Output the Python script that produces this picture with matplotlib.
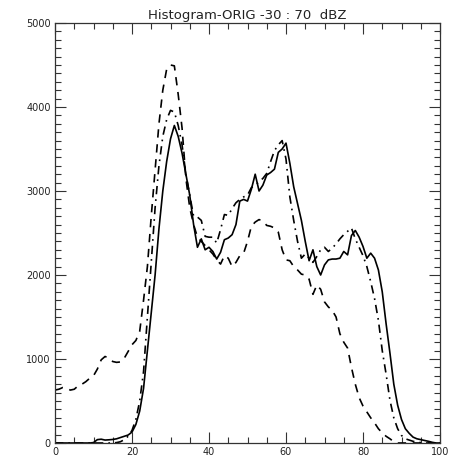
import matplotlib
matplotlib.use("Agg")
import matplotlib.pyplot as plt
import numpy as np

bins = list(range(0, 101))

dashed = [630, 640, 660, 650, 630, 640, 680, 700, 730, 770,
          800, 880, 990, 1030, 1010, 970, 960, 965, 1010, 1090,
          1170, 1220, 1330, 1700, 2100, 2700, 3250, 3800, 4200, 4450,
          4500, 4490, 4150, 3750, 3150, 2800, 2600, 2450, 2400, 2350,
          2300, 2250, 2180, 2130, 2230, 2200, 2100, 2150, 2230, 2260,
          2400, 2580, 2630, 2660, 2640, 2590, 2580, 2560, 2510, 2300,
          2180, 2170, 2100, 2060, 2010, 2000, 1950, 1770, 1880, 1830,
          1680, 1620, 1580, 1500, 1300, 1200, 1130, 900, 700, 540,
          440, 370, 300, 240, 170, 120, 80, 50, 15, 0,
          0, 0, 0, 0, 0, 0, 0, 0, 0, 0, 0]

solid = [0, 0, 0, 0, 0, 0, 0, 0, 0, 0,
         5, 40, 45, 35, 38, 42, 50, 65, 80, 95,
         130, 220, 380, 650, 1100, 1550, 2000, 2550, 3000, 3350,
         3620, 3780, 3650, 3450, 3200, 2950, 2600, 2330, 2430, 2300,
         2330, 2280, 2190, 2270, 2420, 2440, 2480, 2600, 2880, 2900,
         2880, 3020, 3200, 3000, 3070, 3190, 3220, 3260, 3460, 3500,
         3570, 3330, 3050, 2850, 2650, 2400, 2170, 2300, 2100, 2000,
         2120, 2180, 2190, 2190, 2200, 2280, 2240, 2470, 2530, 2450,
         2340, 2200, 2260, 2200, 2060, 1800, 1420, 1070, 700, 450,
         280, 170, 115, 70, 50, 40, 30, 20, 8, 0, 0]

dashdot = [0, 0, 0, 0, 0, 0, 0, 0, 0, 0,
           0, 0, 0, 0, 0, 0, 5, 15, 40, 80,
           150, 280, 500, 850, 1500, 2150, 2800, 3300, 3650, 3850,
           3960, 3940, 3780, 3550, 3200, 2950, 2700, 2690, 2650, 2460,
           2450, 2450, 2380, 2540, 2720, 2710, 2790, 2860, 2900, 2930,
           2950, 3040, 3070, 3110, 3150, 3210, 3350, 3480, 3550, 3600,
           3380, 2930, 2650, 2400, 2200, 2250, 2200, 2150, 2220, 2300,
           2330, 2280, 2320, 2370, 2430, 2480, 2520, 2560, 2430, 2330,
           2230, 2100, 1920, 1720, 1460, 1100, 820, 510, 300, 170,
           90, 50, 35, 20, 10, 5, 0, 0, 0, 0, 0]

title = "Histogram-ORIG -30 : 70  dBZ"
xticks = [0, 20, 40, 60, 80, 100]
yticks = [0, 1000, 2000, 3000, 4000, 5000]

fig = plt.figure(figsize=(4.5, 4.62), dpi=100)
ax = fig.add_axes([55/450, 19/462, 385/450, 420/462])

ax.plot(bins, solid, color="black", lw=1.2, linestyle="-")
ax.plot(bins, dashed, color="black", lw=1.2, linestyle=(0, (5, 4)))
ax.plot(bins, dashdot, color="black", lw=1.2, linestyle=(0, (5, 3, 1, 3)))

ax.set_xlim(0, 100)
ax.set_ylim(0, 5000)
ax.set_xticks(xticks)
ax.set_yticks(yticks)
ax.set_xticks(np.arange(0, 101, 5), minor=True)
ax.set_yticks(np.arange(0, 5001, 100), minor=True)
ax.tick_params(which="both", direction="in", top=True, right=True,
               labelsize=7, width=0.8, color="#333333", labelcolor="#222222")
ax.tick_params(which="major", length=8, pad=3)
ax.tick_params(which="minor", length=4)
for s in ax.spines.values():
    s.set_linewidth(0.9)
    s.set_color("#333333")

ax.set_title(title, fontsize=9.5, pad=3, color="#222222")

fig.savefig("out.png", dpi=100)
